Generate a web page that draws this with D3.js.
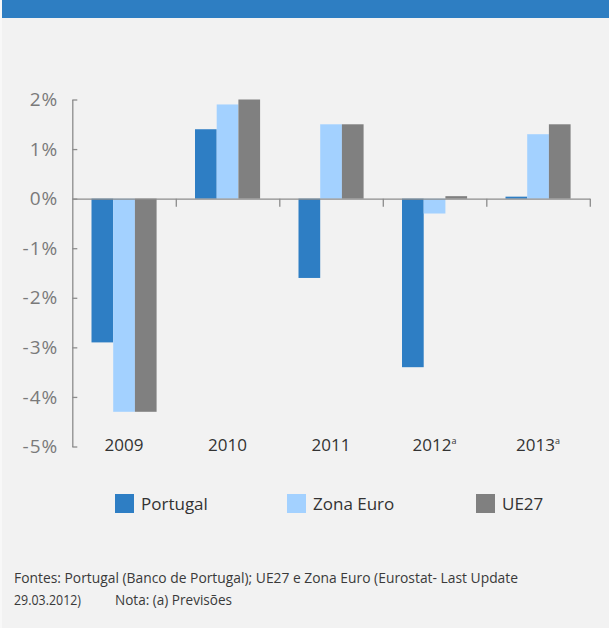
<!DOCTYPE html>
<html>
<head>
<meta charset="utf-8">
<script src="https://cdn.jsdelivr.net/npm/d3@7"></script>
<style>
  body { margin: 0; background: #f8f8f8; }
  text { font-family: "Open Sans", sans-serif; }
</style>
</head>
<body>
<div id="chart"></div>
<script>
// data
var years = ["2009", "2010", "2011", "2012", "2013"];
var yearNotes = ["", "", "", "a", "a"];
var seriesNames = ["Portugal", "Zona Euro", "UE27"];
var portugal = [-2.9, 1.4, -1.6, -3.4, 0.04];
var zonaEuro = [-4.3, 1.9, 1.5, -0.3, 1.3];
var ue27 = [-4.3, 2.0, 1.5, 0.05, 1.5];
var yTicks = [-5, -4, -3, -2, -1, 0, 1, 2];
var colors = ["#2e7ec4", "#a3d1ff", "#808080"];

var W = 609, H = 628;

var svg = d3.select("#chart")
  .append("svg")
  .attr("width", W)
  .attr("height", H);

// panel background + top band
svg.append("rect")
  .attr("x", 2).attr("y", 0)
  .attr("width", W - 2).attr("height", H)
  .attr("fill", "#f2f2f2");
svg.append("rect")
  .attr("x", 2).attr("y", 0)
  .attr("width", W - 2).attr("height", 18)
  .attr("fill", "#2e7ec2");

var left = 72.3, right = 589.8;

var y = d3.scaleLinear().domain([-5, 2]).range([446.5, 99.5]);

var x0 = d3.scaleBand().domain(years).range([left, right]).padding(0);

var x1 = d3.scaleBand()
  .domain(seriesNames)
  .range([0, x0.bandwidth()])
  .paddingInner(0)
  .paddingOuter(0.885);

var rows = years.map(function (yr, i) {
  return { year: yr, values: [portugal[i], zonaEuro[i], ue27[i]] };
});

// bars
var groups = svg.selectAll(".grp")
  .data(rows)
  .enter()
  .append("g")
  .attr("class", "grp")
  .attr("transform", function (d) { return "translate(" + x0(d.year) + ",0)"; });

groups.selectAll("rect")
  .data(function (d) {
    return d.values.map(function (v, j) { return { name: seriesNames[j], v: v, j: j }; });
  })
  .enter()
  .append("rect")
  .attr("x", function (d) { return x1(d.name); })
  .attr("width", x1.bandwidth())
  .attr("y", function (d) { return y(Math.max(0, d.v)); })
  .attr("height", function (d) { return Math.abs(y(d.v) - y(0)); })
  .attr("fill", function (d) { return colors[d.j]; });

// y axis
var yAxis = svg.append("g")
  .attr("transform", "translate(" + left + ",0)")
  .call(d3.axisLeft(y)
    .tickValues(yTicks)
    .tickFormat(function (d) { return d + "%"; })
    .tickSizeInner(-5)
    .tickSizeOuter(0)
    .tickPadding(14));
yAxis.selectAll("path, line").attr("stroke", "#8c8c8c").attr("stroke-width", 1.3);
yAxis.selectAll("text")
  .attr("fill", "#7a7a7a")
  .style("font-size", "19px")
  .style("letter-spacing", "1px");

// x axis (category boundaries)
var xb = d3.scaleLinear().domain([0, years.length]).range([left, right]);
var xAxis = svg.append("g")
  .attr("transform", "translate(0," + y(0) + ")")
  .call(d3.axisBottom(xb)
    .tickValues(d3.range(1, years.length + 1))
    .tickFormat("")
    .tickSizeInner(8)
    .tickSizeOuter(0));
xAxis.selectAll("path, line").attr("stroke", "#8c8c8c").attr("stroke-width", 1.3);

// year labels
var lbl = svg.selectAll(".yl")
  .data(years)
  .enter()
  .append("text")
  .attr("class", "yl")
  .attr("x", function (d) { return x0(d) + x0.bandwidth() / 2; })
  .attr("y", 451)
  .attr("text-anchor", "middle")
  .attr("fill", "#333")
  .style("font-size", "17px");
lbl.append("tspan").text(function (d) { return d; });
lbl.append("tspan")
  .attr("dy", -7)
  .style("font-size", "9px")
  .text(function (d, i) { return yearNotes[i]; });

// legend
var legX = [115, 287, 476];
var leg = svg.selectAll(".leg")
  .data(seriesNames)
  .enter()
  .append("g")
  .attr("class", "leg")
  .attr("transform", function (d, i) { return "translate(" + legX[i] + ",494)"; });
leg.append("rect")
  .attr("width", 19).attr("height", 19)
  .attr("fill", function (d, i) { return colors[i]; });
leg.append("text")
  .attr("x", 26).attr("y", 16)
  .attr("fill", "#333")
  .style("font-size", "17px")
  .text(function (d) { return d; });

// footer (condensed to the source's width)
var footLines = [
  { x: 14, y: 583, w: 504, t: "Fontes: Portugal (Banco de Portugal); UE27 e Zona Euro (Eurostat- Last Update" },
  { x: 14, y: 605, w: 67, t: "29.03.2012)" },
  { x: 115, y: 605, w: 117, t: "Nota: (a) Previsões" }
];
svg.selectAll(".foot")
  .data(footLines)
  .enter()
  .append("text")
  .attr("class", "foot")
  .attr("x", function (d) { return d.x; })
  .attr("y", function (d) { return d.y; })
  .attr("textLength", function (d) { return d.w; })
  .attr("lengthAdjust", "spacingAndGlyphs")
  .attr("fill", "#3a3a3a")
  .style("font-size", "15px")
  .text(function (d) { return d.t; });
</script>
</body>
</html>
